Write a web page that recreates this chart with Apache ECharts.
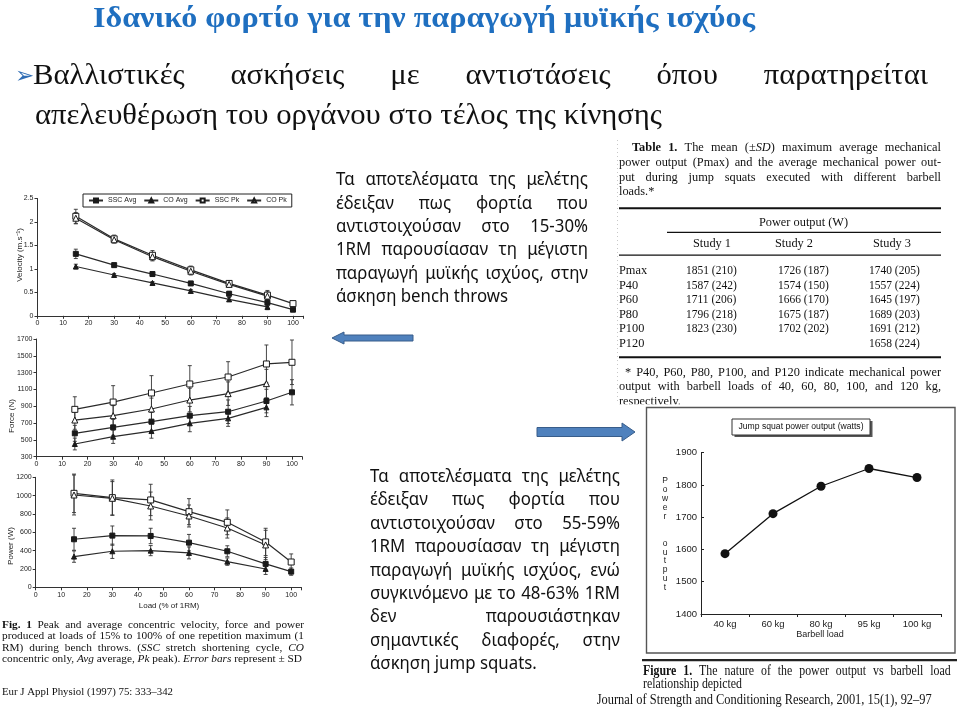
<!DOCTYPE html>
<html><head><meta charset="utf-8">
<script src="https://cdn.jsdelivr.net/npm/echarts@6/dist/echarts.min.js"></script>
<style>html,body{margin:0;padding:0;background:#fff}#c{width:960px;height:712px}</style>
</head><body><div id="c"></div>
<script>
// ---------------- DATA ----------------
const loadsSSC = [15, 30, 45, 60, 75, 90, 100];
const loadsCO = [15, 30, 45, 60, 75, 90];
const seriesNames = ['SSC Avg', 'CO Avg', 'SSC Pk', 'CO Pk'];

const velSSCAvg = [1.32, 1.08, 0.89, 0.69, 0.47, 0.28, 0.13];
const velCOAvg = [1.05, 0.87, 0.70, 0.53, 0.35, 0.19];
const velSSCPk = [2.12, 1.64, 1.29, 0.98, 0.69, 0.44, 0.26];
const velCOPk = [2.08, 1.62, 1.26, 0.95, 0.67, 0.42];
const velSSCAvgSD = [0.10, 0.04, 0.04, 0.04, 0.05, 0.07, 0.03];
const velCOAvgSD = [0.05, 0.03, 0.03, 0.03, 0.04, 0.06];
const velSSCPkSD = [0.15, 0.08, 0.10, 0.08, 0.06, 0.10, 0.04];
const velCOPkSD = [0.12, 0.07, 0.09, 0.08, 0.06, 0.09];

const forceSSCAvg = [578, 649, 717, 788, 835, 962, 1066];
const forceCOAvg = [451, 538, 605, 697, 756, 887];
const forceSSCPk = [863, 950, 1058, 1165, 1248, 1403, 1423];
const forceCOPk = [736, 788, 867, 974, 1050, 1169];
const forceSSCAvgSD = [95, 95, 110, 110, 140, 140, 150];
const forceCOAvgSD = [70, 80, 85, 100, 95, 110];
const forceSSCPkSD = [150, 195, 206, 218, 182, 226, 265];
const forceCOPkSD = [110, 120, 130, 140, 140, 170];

const powSSCAvg = [524, 564, 560, 487, 393, 255, 171];
const powCOAvg = [335, 393, 400, 375, 280, 200];
const powSSCPk = [1025, 978, 953, 825, 709, 495, 276];
const powCOPk = [1007, 971, 887, 778, 647, 462];
const powSSCAvgSD = [120, 105, 84, 90, 60, 70, 40];
const powCOAvgSD = [62, 78, 55, 65, 40, 60];
const powSSCPkSD = [210, 193, 171, 142, 135, 149, 88];
const powCOPkSD = [218, 182, 152, 120, 110, 160];

const velTicks = [0, 2.5, 0.5];
const forceTicks = [300, 1700, 200];
const powTicks = [0, 1200, 200];

const jumpLoads = ['40 kg', '60 kg', '80 kg', '95 kg', '100 kg'];
const jumpPower = [1587, 1711, 1796, 1851, 1823];
const jumpTicks = [1400, 1900, 100];

const tableRowLabels = ['Pmax', 'P40', 'P60', 'P80', 'P100', 'P120'];
const tableStudy1 = ['1851 (210)', '1587 (242)', '1711 (206)', '1796 (218)', '1823 (230)', ''];
const tableStudy2 = ['1726 (187)', '1574 (150)', '1666 (170)', '1675 (187)', '1702 (202)', ''];
const tableStudy3 = ['1740 (205)', '1557 (224)', '1645 (197)', '1689 (203)', '1691 (212)', '1658 (224)'];

// ---------------- TEXT HELPERS ----------------
const SERIF = '"Liberation Serif","Times New Roman",serif';
const SANS = '"Noto Sans","Open Sans",sans-serif';
const ARIAL = '"Liberation Sans",Arial,sans-serif';
const mc = document.createElement('canvas').getContext('2d');
function tw(t, f) { mc.font = f; return mc.measureText(t).width; }
const G = [];
function T(x, y, text, font, fill, o) {
  o = o || {};
  G.push({type: 'text', x: x, y: y, scaleX: o.sx || 1, scaleY: o.sy || 1, rotation: o.rot || 0, z: 50, silent: true,
    style: {text: text, x: 0, y: 0, font: font, fill: fill || '#111', textAlign: o.align || 'left', textVerticalAlign: 'middle'}});
}
function parseWord(w, base) {
  const segs = [];
  w.split(/(\*[^*]+\*|_[^_]+_)/).forEach(s => {
    if (!s) return;
    if (s.length > 1 && s[0] === '*' && s[s.length - 1] === '*') segs.push([s.slice(1, -1), 'bold ' + base]);
    else if (s.length > 1 && s[0] === '_' && s[s.length - 1] === '_') segs.push([s.slice(1, -1), 'italic ' + base]);
    else segs.push([s, base]);
  });
  return segs;
}
function L(str, x0, y, base, fill, sx, x1) {
  const words = str.split(' ').filter(Boolean).map(w => parseWord(w, base));
  const ws = words.map(sg => sg.reduce((a, [t, f]) => a + tw(t, f) * sx, 0));
  const tot = ws.reduce((a, b) => a + b, 0);
  const gap = (x1 != null && words.length > 1) ? (x1 - x0 - tot) / (words.length - 1) : tw(' ', base) * sx;
  let x = x0;
  words.forEach((sg, i) => {
    let cx = x;
    sg.forEach(([t, f]) => { T(cx, y, t, f, fill, {sx: sx}); cx += tw(t, f) * sx; });
    x += ws[i] + gap;
  });
}
function fit(str, base, width) {
  const words = str.split(' ').filter(Boolean).map(w => parseWord(w, base));
  let tot = 0;
  words.forEach(sg => sg.forEach(([t, f]) => { tot += tw(t, f); }));
  tot += tw(' ', base) * (words.length - 1);
  return width / tot;
}
function R(x, y, w, h, fill, stroke, lw, z) {
  G.push({type: 'rect', z: z || 40, silent: true, shape: {x: x, y: y, width: w, height: h},
    style: {fill: fill || 'none', stroke: stroke || 'none', lineWidth: lw || 1}});
}
function LN(x1, y1, x2, y2, stroke, lw, dash, z) {
  G.push({type: 'line', z: z || 40, silent: true, shape: {x1: x1, y1: y1, x2: x2, y2: y2},
    style: {stroke: stroke, lineWidth: lw || 1, lineDash: dash || null}});
}
function PG(points, fill, stroke) {
  G.push({type: 'polygon', z: 40, silent: true, shape: {points: points}, style: {fill: fill, stroke: stroke, lineWidth: 1}});
}

// ---------------- SLIDE TEXT ----------------
const title = 'Ιδανικό φορτίο για την παραγωγή μυϊκής ισχύος';
const tfont = 'bold 29px ' + SERIF;
L(title, 93, 20, tfont, '#1F6FC0', fit(title, tfont, 662));

T(15, 77, '➢', '23px "DejaVu Sans"', '#2F6DB5');
const b1 = 'Βαλλιστικές ασκήσεις με αντιστάσεις όπου παρατηρείται';
const b2 = 'απελευθέρωση του οργάνου στο τέλος της κίνησης';
const bfont = '30px ' + SERIF;
const bsx = fit(b2, bfont, 627);
L(b1, 33, 76, bfont, '#111', bsx, 928);
L(b2, 35, 116, bfont, '#111', bsx);

const sfont = '17.5px ' + SANS;
const ssx = fit('άσκηση bench throws', sfont, 172);
const block1 = ['Τα αποτελέσματα της μελέτης', 'έδειξαν πως φορτία που', 'αντιστοιχούσαν στο 15-30%',
  '1RM παρουσίασαν τη μέγιστη', 'παραγωγή μυϊκής ισχύος, στην', 'άσκηση bench throws'];
block1.forEach((s, i) => L(s, 336, 180.5 + i * 23.3, sfont, '#111', ssx, i < block1.length - 1 ? 588 : null));
const block2 = ['Τα αποτελέσματα της μελέτης', 'έδειξαν πως φορτία που', 'αντιστοιχούσαν στο 55-59%',
  '1RM παρουσίασαν τη μέγιστη', 'παραγωγή μυϊκής ισχύος, ενώ', 'συγκινόμενο με το 48-63% 1RM',
  'δεν παρουσιάστηκαν', 'σημαντικές διαφορές, στην', 'άσκηση jump squats.'];
block2.forEach((s, i) => L(s, 370, 477 + i * 23.4, sfont, '#111', ssx, i < block2.length - 1 ? 620 : null));

// arrows
PG([[332, 338], [344, 332], [344, 335], [413, 335], [413, 341], [344, 341], [344, 344]], '#4F81BD', '#385D8A');
PG([[537, 427.5], [622, 427.5], [622, 423], [635, 432], [622, 441], [622, 436.5], [537, 436.5]], '#4F81BD', '#385D8A');

// left caption
const cfont = '11px ' + SERIF;
const cap = ['*Fig.* *1* Peak and average concentric velocity, force and power',
  'produced at loads of 15% to 100% of one repetition maximum (1',
  'RM) during bench throws. (_SSC_ stretch shortening cycle, _CO_',
  'concentric only, _Avg_ average, _Pk_ peak). _Error_ _bars_ represent ± SD'];
const csx = fit(cap[3], cfont, 300);
cap.forEach((s, i) => L(s, 2, 625 + i * 11.5, cfont, '#111', csx, i < 3 ? 304 : null));
const eur = 'Eur J Appl Physiol (1997) 75: 333–342';
L(eur, 2, 692, cfont, '#111', fit(eur, cfont, 171));

// left axis names
T(20, 255, 'Velocity (m.s⁻¹)', '8px ' + ARIAL, '#222', {rot: Math.PI / 2, align: 'center'});
T(11.5, 416, 'Force (N)', '8px ' + ARIAL, '#222', {rot: Math.PI / 2, align: 'center'});
T(11, 546, 'Power (W)', '8px ' + ARIAL, '#222', {rot: Math.PI / 2, align: 'center'});
T(169, 605.7, 'Load (% of 1RM)', '8px ' + ARIAL, '#222', {align: 'center'});

// table
const tbf = '13px ' + SERIF;
const tsx = 0.95;
L('*Table* *1.* The mean (±_SD_) maximum average mechanical', 632, 148, tbf, '#111', tsx, 941);
L('power output (Pmax) and the average mechanical power out-', 619, 163, tbf, '#111', tsx, 941);
L('put during jump squats executed with different barbell', 619, 177.7, tbf, '#111', tsx, 941);
L('loads.*', 619, 191.5, tbf, '#111', tsx);
R(619, 207.3, 322, 2, '#111');
T(803.5, 223, 'Power output (W)', tbf, '#111', {align: 'center', sx: tsx});
R(667, 231.8, 274, 1.3, '#111');
T(712, 243.3, 'Study 1', tbf, '#111', {align: 'center', sx: tsx});
T(794, 243.3, 'Study 2', tbf, '#111', {align: 'center', sx: tsx});
T(892, 243.3, 'Study 3', tbf, '#111', {align: 'center', sx: tsx});
R(619, 254.4, 322, 1.3, '#111');
tableRowLabels.forEach((lab, i) => {
  const y = 270.5 + i * 14.6;
  T(619, y, lab, tbf, '#111', {sx: tsx});
  if (tableStudy1[i]) T(686, y, tableStudy1[i], tbf, '#111', {sx: tsx * 0.93});
  if (tableStudy2[i]) T(778, y, tableStudy2[i], tbf, '#111', {sx: tsx * 0.93});
  if (tableStudy3[i]) T(869, y, tableStudy3[i], tbf, '#111', {sx: tsx * 0.93});
});
R(619, 356.3, 322, 2, '#111');
L('* P40, P60, P80, P100, and P120 indicate mechanical power', 625, 372.7, tbf, '#111', tsx, 941);
L('output with barbell loads of 40, 60, 80, 100, and 120 kg,', 619, 386.7, tbf, '#111', tsx, 941);
L('respectively.', 619, 401.5, tbf, '#111', tsx);
R(612, 404.3, 345, 4, '#fff', null, 1, 60);
LN(617.5, 140, 617.5, 404, '#c8c8c8', 1, [1, 3]);

// right figure frame
R(646.5, 407.5, 308.5, 245.5, 'none', '#555', 1.4, 61);
R(734.5, 421, 138, 16, '#555', null, 1, 41);
R(732, 419, 138, 16, '#fff', '#333', 1, 42);
const jt = 'Jump squat power output (watts)';
const jf = '8.5px ' + ARIAL;
T(801, 427, jt, jf, '#111', {align: 'center', sx: fit(jt, jf, 125)});
'Power  output'.split('').forEach((ch, i) => { if (ch !== ' ') T(665, 481 + i * 8.9, ch, '8.5px ' + ARIAL, '#222', {align: 'center'}); });
T(820, 635, 'Barbell load', '9px ' + ARIAL, '#222', {align: 'center'});
R(642, 659, 315, 2.3, '#222');
const ffont = '14px ' + SERIF;
const fsx = fit('relationship depicted', ffont, 99);
L('*Figure* *1.* The nature of the power output vs barbell load', 643, 671.7, ffont, '#111', fsx, 950.7);
L('relationship depicted', 643, 684.5, ffont, '#111', fsx);
const jr = 'Journal of Strength and Conditioning Research, 2001, 15(1), 92–97';
const jrf = '15px ' + SERIF;
L(jr, 596.7, 700, jrf, '#111', fit(jr, jrf, 335));

// ---------------- CHART ----------------
const AX = '#333';
const plain = v => String(v);
const STYLE = [
  {name: 'SSC Avg', symbol: 'rect', size: 5, fill: '#1a1a1a'},
  {name: 'CO Avg', symbol: 'triangle', size: 5, fill: '#1a1a1a'},
  {name: 'SSC Pk', symbol: 'rect', size: 6, fill: '#ffffff'},
  {name: 'CO Pk', symbol: 'triangle', size: 6, fill: '#ffffff'}
];
const panelData = [
  [[loadsSSC, velSSCAvg, velSSCAvgSD], [loadsCO, velCOAvg, velCOAvgSD], [loadsSSC, velSSCPk, velSSCPkSD], [loadsCO, velCOPk, velCOPkSD]],
  [[loadsSSC, forceSSCAvg, forceSSCAvgSD], [loadsCO, forceCOAvg, forceCOAvgSD], [loadsSSC, forceSSCPk, forceSSCPkSD], [loadsCO, forceCOPk, forceCOPkSD]],
  [[loadsSSC, powSSCAvg, powSSCAvgSD], [loadsCO, powCOAvg, powCOAvgSD], [loadsSSC, powSSCPk, powSSCPkSD], [loadsCO, powCOPk, powCOPkSD]]
];
const panelTicks = [velTicks, forceTicks, powTicks];
const grids = [
  {left: 37.5, top: 198.5, width: 265.7, height: 117.3, outerBoundsMode: 'none'},
  {left: 36.5, top: 339, width: 265.7, height: 117.7, outerBoundsMode: 'none'},
  {left: 35.7, top: 477.3, width: 265.7, height: 110, outerBoundsMode: 'none'},
  {left: 701, top: 452.7, width: 240, height: 161.3, outerBoundsMode: 'none'}
];
const xAxes = [0, 1, 2].map(gi => ({
  type: 'value', gridIndex: gi, min: 0, max: 104, interval: 10,
  axisLine: {show: true, lineStyle: {color: AX, width: 1}},
  axisTick: {show: true, length: 3, lineStyle: {color: AX}},
  splitLine: {show: false},
  axisLabel: {fontSize: 7, color: '#222', margin: 4, fontFamily: ARIAL, formatter: v => (v % 10 === 0 ? String(v) : '')}
}));
xAxes.push({
  type: 'category', gridIndex: 3, data: jumpLoads, boundaryGap: true,
  axisLine: {lineStyle: {color: '#222', width: 1}},
  axisTick: {show: true, alignWithLabel: false, length: 3, lineStyle: {color: '#222'}},
  axisLabel: {fontSize: 9.5, color: '#222', margin: 5, fontFamily: ARIAL}
});
const yAxes = panelTicks.map((t, gi) => ({
  type: 'value', gridIndex: gi, min: t[0], max: t[1], interval: t[2],
  axisLine: {show: true, lineStyle: {color: AX, width: 1}},
  axisTick: {show: true, length: 3, lineStyle: {color: AX}},
  splitLine: {show: false},
  axisLabel: {fontSize: 7, color: '#222', margin: 4, fontFamily: ARIAL, formatter: plain}
}));
yAxes.push({
  type: 'value', gridIndex: 3, min: jumpTicks[0], max: jumpTicks[1], interval: jumpTicks[2],
  axisLine: {show: true, lineStyle: {color: '#222', width: 1}},
  axisTick: {show: true, inside: true, length: 3, lineStyle: {color: '#222'}},
  splitLine: {show: false},
  axisLabel: {fontSize: 9.5, color: '#222', margin: 4, fontFamily: ARIAL, formatter: plain}
});
function errItem(p, api) {
  const x = api.value(0);
  const a = api.coord([x, api.value(1)]);
  const b = api.coord([x, api.value(2)]);
  const st = {stroke: '#333', lineWidth: 0.9};
  return {type: 'group', children: [
    {type: 'line', shape: {x1: a[0], y1: a[1], x2: b[0], y2: b[1]}, style: st},
    {type: 'line', shape: {x1: a[0] - 2, y1: a[1], x2: a[0] + 2, y2: a[1]}, style: st},
    {type: 'line', shape: {x1: b[0] - 2, y1: b[1], x2: b[0] + 2, y2: b[1]}, style: st}
  ]};
}
const series = [];
panelData.forEach((pd, gi) => pd.forEach(([xs, vs, sds], k) => {
  const d = STYLE[k];
  series.push({type: 'custom', name: 'err' + gi + k, xAxisIndex: gi, yAxisIndex: gi, z: 2, silent: true, animation: false,
    data: xs.map((x, i) => [x, vs[i] - sds[i], vs[i] + sds[i]]), encode: {x: 0, y: [1, 2]}, renderItem: errItem});
  series.push({type: 'line', name: d.name, xAxisIndex: gi, yAxisIndex: gi, z: 3, animation: false,
    data: xs.map((x, i) => [x, vs[i]]), symbol: d.symbol, symbolSize: d.size, showAllSymbol: true,
    itemStyle: {color: d.fill, borderColor: '#1a1a1a', borderWidth: 1},
    lineStyle: {color: '#2a2a2a', width: 1.2}});
}));
series.push({type: 'line', name: 'Jump squat', xAxisIndex: 3, yAxisIndex: 3, z: 3, animation: false,
  data: jumpPower, symbol: 'circle', symbolSize: 9,
  itemStyle: {color: '#111'}, lineStyle: {color: '#111', width: 1.3}});

const chart = echarts.init(document.getElementById('c'), null, {renderer: 'canvas'});
chart.setOption({
  backgroundColor: '#fff',
  animation: false,
  legend: {data: seriesNames, left: 83, top: 194, itemWidth: 14, itemHeight: 5, itemGap: 7, padding: [3, 5],
    borderColor: '#222', borderWidth: 1, selectedMode: false,
    textStyle: {fontSize: 7, color: '#222', fontFamily: ARIAL}},
  grid: grids, xAxis: xAxes, yAxis: yAxes, series: series,
  graphic: {elements: G}
});
</script></body></html>
